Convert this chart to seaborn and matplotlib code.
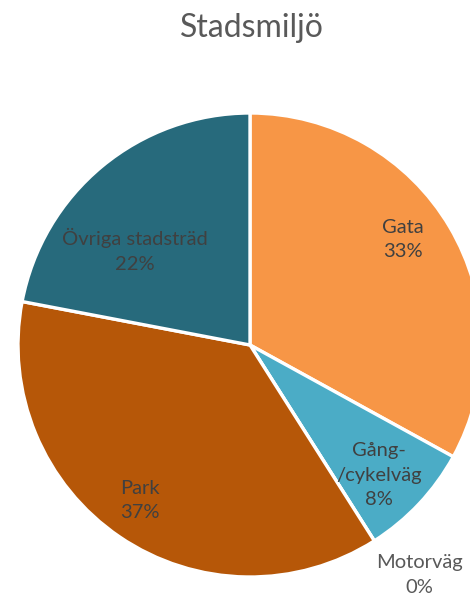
import numpy as np
import matplotlib
matplotlib.use("Agg")
import matplotlib.pyplot as plt
import seaborn as sns

# Data
categories = ["Gata", "Gång-\n/cykelväg", "Motorväg", "Park", "Övriga stadsträd"]
shares = [33, 8, 0, 37, 22]
colors = ["#F79646", "#4BACC6", "#A5A5A5", "#B65708", "#276A7C"]

# Label placement relative to each wedge (radius fraction, angle nudge in degrees)
label_radius = [0.80, 0.79, 1.23, 0.82, 0.64]
label_nudge = [4, -2, 4, -1, 11]
label_colors = ["#404040", "#404040", "#595959", "#404040", "#404040"]

sns.set_theme(style="white")
plt.rcParams["font.family"] = ["Lato", "DejaVu Sans"]

W, H = 470, 597
fig = plt.figure(figsize=(W / 100, H / 100), dpi=100)
cx, cy, r = 250, 345, 232
ax = fig.add_axes([(cx - r) / W, (H - cy - r) / H, 2 * r / W, 2 * r / H])

wedges, _ = ax.pie(shares, colors=colors, startangle=90, counterclock=False,
                   radius=1, wedgeprops=dict(edgecolor="white", linewidth=2.4))
ax.set_xlim(-1, 1)
ax.set_ylim(-1, 1)
ax.set_aspect("equal")
ax.axis("off")
for w in wedges:
    w.set_clip_on(False)

total = float(sum(shares))
cum = 0.0
for name, val, rad, nudge, col in zip(categories, shares, label_radius, label_nudge, label_colors):
    mid = 90 - 360 * (cum + val / 2) / total + nudge
    cum += val
    x = rad * np.cos(np.radians(mid))
    y = rad * np.sin(np.radians(mid))
    ax.text(x, y, f"{name}\n{val}%", ha="center", va="center", fontsize=14.5,
            color=col, linespacing=1.55, clip_on=False)

fig.text(252 / W, 1 - 28 / H, "Stadsmiljö", ha="center", va="center",
         fontsize=23, color="#595959")

fig.savefig("out.png", dpi=100, facecolor="white")
